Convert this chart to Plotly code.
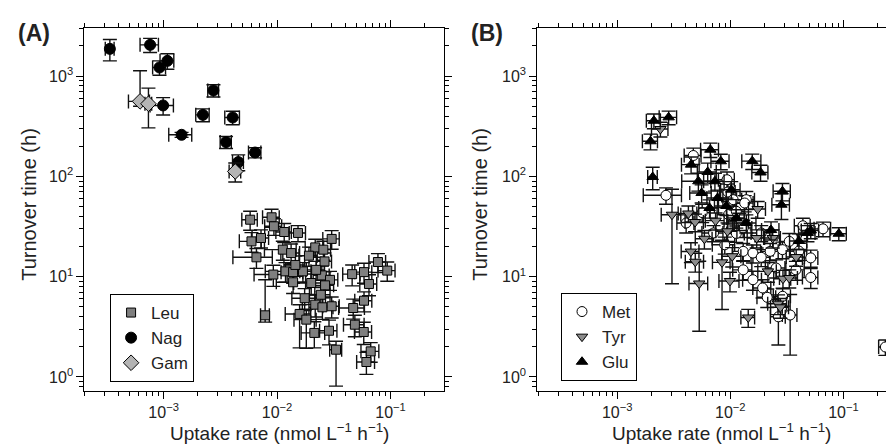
import plotly.graph_objects as go

# ---------------- Panel A data ----------------
leu_x = [5.79e-3, 8.95e-3, 7.22e-3, 5.95e-3, 6.58e-3, 9.38e-3, 1.156e-2, 1.53e-2, 1.124e-2, 1.33e-2,
         3.03e-2, 2.17e-2, 1.91e-2, 2.56e-2, 2.62e-2, 9.27e-3, 1.187e-2, 1.385e-2, 1.69e-2, 1.385e-2,
         2.48e-2, 2.93e-2, 2.43e-2, 1.75e-2, 2.17e-2, 2.51e-2, 3.03e-2, 1.58e-2, 1.81e-2, 2.13e-2,
         2.87e-2, 3.31e-2, 7.85e-3, 4.59e-2, 5.84e-2, 7.75e-2, 9.36e-2, 6.46e-2, 5.84e-2, 4.69e-2,
         4.85e-2, 5.81e-2, 6.69e-2, 6.13e-2, 2.65e-2, 2.0e-2, 1.45e-2, 2.21e-2]
leu_y = [37.0, 39.1, 24.3, 22.5, 15.6, 31.8, 27.9, 27.3, 18.6, 17.2,
         23.8, 19.6, 16.2, 18.6, 14.2, 10.5, 11.3, 11.1, 11.3, 8.8,
         10.3, 9.3, 6.6, 6.1, 5.26, 4.95, 5.07, 4.25, 3.73, 2.75,
         2.89, 1.87, 4.12, 10.6, 11.1, 14.0, 11.5, 8.46, 5.76, 4.87,
         3.32, 2.81, 1.80, 1.41, 8.2, 8.65, 13.1, 11.7]
leu_xerr = [9e-4, 1.5e-3, 1.2e-3, 1.3e-3, 2.5e-3, 1.6e-3, 1.8e-3, 2.5e-3, 3.5e-3, 2.5e-3,
            5e-3, 4e-3, 3.5e-3, 4e-3, 4e-3, 3e-3, 4e-3, 3e-3, 3e-3, 4e-3,
            4e-3, 5e-3, 5e-3, 4e-3, 5e-3, 6e-3, 5e-3, 4e-3, 4e-3, 5e-3,
            5e-3, 4e-3, 7e-4, 8e-3, 1e-2, 1.3e-2, 1.6e-2, 1.1e-2, 1e-2, 1.2e-2,
            1e-2, 1e-2, 1.2e-2, 1.1e-2, 5e-3, 6e-3, 3e-3, 4e-3]
leu_yerr_up = [8, 8, 5, 5, 3.5, 6, 6, 5, 4, 4,
               5, 4, 3.5, 4, 3, 2.5, 2.5, 2.5, 2.5, 2,
               2.5, 2, 1.5, 1.5, 1.3, 1.2, 1.2, 1.0, 1.0, 0.8,
               0.8, 0.4, 5.2, 2.5, 2.5, 3, 2.5, 2, 1.3, 1.1,
               0.8, 0.7, 0.4, 0.35, 2, 2, 3, 2.5]
leu_yerr_down = [8, 8, 5, 5, 3.5, 6, 6, 5, 4, 4,
                 5, 4, 3.5, 4, 3, 2.5, 2.5, 2.5, 2.5, 2,
                 2.5, 2, 1.5, 1.5, 1.3, 1.2, 1.2, 2.3, 1.8, 0.8,
                 0.8, 1.06, 0.6, 2.5, 2.5, 3, 2.5, 2, 1.3, 1.1,
                 0.8, 0.7, 0.4, 0.35, 2, 2, 3, 2.5]

nag_x = [3.36e-4, 7.6e-4, 9.2e-4, 1.08e-3, 9.9e-4, 1.44e-3, 2.22e-3, 2.75e-3, 4.06e-3, 3.55e-3, 4.55e-3, 6.4e-3]
nag_y = [1870, 2050, 1220, 1420, 510, 260, 411, 720, 387, 220, 139, 173]
nag_xerr = [3e-5, 1.4e-4, 1.2e-4, 1.5e-4, 2.3e-4, 3.3e-4, 3e-4, 3e-4, 6e-4, 4e-4, 5e-4, 8e-4]
nag_yerr_up = [450, 330, 200, 250, 100, 15, 60, 100, 60, 30, 25, 20]
nag_yerr_down = [450, 330, 200, 250, 100, 15, 60, 100, 60, 30, 25, 20]

gam_x = [6.2e-4, 7.35e-4, 4.28e-3]
gam_y = [560, 530, 112]
gam_xerr = [1.3e-4, 5e-5, 5e-4]
gam_yerr_up = [570, 230, 24]
gam_yerr_down = [60, 225, 24]

# ---------------- Panel B data ----------------
met_x = [4.71e-3, 2.70e-3, 9.35e-3, 9.53e-3, 1.06e-2, 1.385e-2, 4.07e-3, 5.64e-3, 9.64e-3, 1.13e-2,
         1.34e-2, 4.38e-2, 6.6e-2, 1.13e-2, 1.30e-2, 1.30e-2, 1.585e-2, 1.875e-2, 2.25e-2, 2.89e-2,
         3.32e-2, 4.04e-2, 5.14e-2, 5.14e-2, 1.585e-2, 1.93e-2, 2.12e-2, 2.90e-2, 2.66e-2, 3.38e-2,
         0.2348, 8.93e-3, 7.11e-3, 1.875e-2, 2.54e-2, 3.80e-2, 1.30e-2]
met_y = [161.6, 64.8, 92.7, 69.9, 58.6, 58.6, 34.3, 43.6, 41.5, 44.9,
         54.3, 32.2, 30.0, 27.0, 30.6, 17.9, 17.2, 15.6, 17.9, 18.6,
         22.5, 18.0, 15.4, 9.82, 9.33, 7.72, 6.23, 6.38, 3.98, 4.15,
         1.99, 20.8, 27.3, 27.3, 12.2, 11.7, 11.7]
met_xerr = [8e-4, 1.0e-3, 1.5e-3, 1.5e-3, 2e-3, 2.5e-3, 7e-4, 1e-3, 2e-3, 2e-3,
            2.5e-3, 7e-3, 1.1e-2, 2e-3, 2.5e-3, 2.5e-3, 3e-3, 3.5e-3, 4e-3, 5e-3,
            6e-3, 7e-3, 8e-3, 8e-3, 3e-3, 3.5e-3, 4e-3, 5e-3, 4e-3, 5e-3,
            0.03, 2e-3, 1.5e-3, 3.5e-3, 5e-3, 7e-3, 2.5e-3]
met_yerr = [30, 12, 18, 14, 12, 12, 7, 9, 8, 9,
            10, 6, 5, 5, 6, 3.5, 3.5, 3, 3.5, 3.5,
            4.5, 3.5, 3, 2.2, 2, 1.6, 1.3, 1.3, 1.9, 2.5,
            0.35, 4, 5, 5, 2.5, 2.5, 2.5]

tyr_x = [2.41e-3, 3.05e-3, 4.26e-3, 4.88e-3, 5.90e-3, 4.48e-3, 4.90e-3, 5.31e-3, 7.41e-3, 8.45e-3,
         9.93e-3, 1.04e-2, 9.44e-3, 1.71e-2, 1.745e-2, 1.44e-2, 2.92e-2, 3.82e-2, 2.64e-2, 2.37e-2,
         3.32e-2, 2.15e-2, 2.77e-2, 1.20e-2]
tyr_y = [297, 41.5, 42.7, 35.1, 23.9, 17.8, 14.1, 8.56, 36.2, 13.9,
         9.06, 16.0, 28.4, 24.3, 47.3, 3.92, 9.55, 15.7, 5.38, 24.3,
         9.7, 11.3, 4.95, 35.9]
tyr_xerr = [4e-4, 6e-4, 8e-4, 9e-4, 1e-3, 8e-4, 9e-4, 1e-3, 1.4e-3, 1.5e-3,
            2e-3, 2e-3, 2e-3, 3e-3, 3e-3, 2e-3, 5e-3, 7e-3, 5e-3, 4e-3,
            6e-3, 4e-3, 5e-3, 2.5e-3]
tyr_yerr = [50, 33, 8, 7, 5, 4, 3, 5.7, 7, 9.2,
            2, 3.5, 6, 5, 9, 0.8, 2, 3, 1.2, 5,
            2, 2.5, 1.1, 7]

glu_x = [2.11e-3, 2.85e-3, 1.97e-3, 2.06e-3, 4.50e-3, 6.66e-3, 8.24e-3, 6.31e-3, 1.563e-2, 1.85e-2,
         2.89e-2, 2.83e-2, 5.14e-2, 9.1e-2, 5.22e-3, 7.31e-3, 5.58e-3, 7.71e-3, 6.56e-3, 9.24e-3,
         1.13e-2, 4.81e-2, 1.02e-2, 1.385e-2, 2.29e-2, 4.04e-2]
glu_y = [359, 388, 224, 98.6, 131, 184.6, 141.5, 110.7, 142, 109.4,
         71.0, 52.2, 28.9, 26.8, 89.4, 89.4, 68.3, 60.9, 48.4, 50.7,
         38.5, 27.3, 73.7, 34.3, 29.2, 22.7]
glu_xerr = [3e-4, 5e-4, 3e-4, 2e-4, 8e-4, 1.2e-3, 1.5e-3, 1.2e-3, 3e-3, 3e-3,
            5e-3, 5e-3, 9e-3, 1.5e-2, 1.5e-3, 1.5e-3, 1.2e-3, 1.5e-3, 1.3e-3, 2e-3,
            2e-3, 8e-3, 2e-3, 3e-3, 4e-3, 7e-3]
glu_yerr = [60, 60, 40, 25, 25, 30, 25, 25, 25, 20,
            14, 15, 5, 4, 18, 18, 14, 12, 10, 10,
            8, 5, 15, 7, 6, 4]

# ---------------- ticks ----------------
x_tick_vals = [1e-3, 1e-2, 1e-1]
x_tick_text = ["10<sup>\u22123</sup>", "10<sup>\u22122</sup>", "10<sup>\u22121</sup>"]
y_tick_vals = [1, 10, 100, 1000]
y_tick_text = ["10<sup>0</sup>", "10<sup>1</sup>", "10<sup>2</sup>", "10<sup>3</sup>"]
minor_tick_vals = [m * 10.0 ** e for e in range(-5, 5) for m in range(2, 10)]

FONT = "Liberation Sans, Arial, sans-serif"
EB = dict(color="#111111", thickness=1.4, width=7)

fig = go.Figure()


def add(xs, ys, ex, eup, edown, name, symbol, fill, size, xa, ya, leg):
    fig.add_trace(go.Scatter(
        x=xs, y=ys, mode="markers", name=name, xaxis=xa, yaxis=ya, legend=leg,
        marker=dict(symbol=symbol, color=fill, size=size, line=dict(color="black", width=1)),
        error_x=dict(type="data", array=ex, **EB),
        error_y=dict(type="data", array=eup, arrayminus=edown, **EB),
    ))


add(leu_x, leu_y, leu_xerr, leu_yerr_up, leu_yerr_down, "Leu", "square", "#7f7f7f", 9, "x", "y", "legend")
add(nag_x, nag_y, nag_xerr, nag_yerr_up, nag_yerr_down, "Nag", "circle", "black", 11, "x", "y", "legend")
add(gam_x, gam_y, gam_xerr, gam_yerr_up, gam_yerr_down, "Gam", "diamond", "#b4b4b4", 12, "x", "y", "legend")

add(met_x, met_y, met_xerr, met_yerr, met_yerr, "Met", "circle", "white", 10, "x2", "y2", "legend2")
add(tyr_x, tyr_y, tyr_xerr, tyr_yerr, tyr_yerr, "Tyr", "triangle-down", "#8c8c8c", 10, "x2", "y2", "legend2")
add(glu_x, glu_y, glu_xerr, glu_yerr, glu_yerr, "Glu", "triangle-up", "black", 10, "x2", "y2", "legend2")

W, H = 894, 448
ML, MR, MT, MB = 0, 0, 20, 65
PH = H - MT - MB

axis_common = dict(
    type="log", showline=True, linecolor="black", linewidth=1, mirror="ticks",
    ticks="outside", ticklen=7, tickwidth=1, tickcolor="black",
    showgrid=False, zeroline=False, tickmode="array",
    tickfont=dict(family=FONT, size=16, color="#222"),
    minor=dict(ticks="outside", ticklen=4, tickwidth=1, tickcolor="black", showgrid=False,
               tickmode="array", tickvals=minor_tick_vals),
)

fig.update_layout(
    width=W, height=H, margin=dict(l=ML, r=MR, t=MT, b=MB),
    paper_bgcolor="white", plot_bgcolor="white",
    font=dict(family=FONT, color="#222"),
    xaxis=dict(domain=[77 / W, 440 / W], range=[-3.699, -0.528], anchor="y",
               tickvals=x_tick_vals, ticktext=x_tick_text, **axis_common),
    yaxis=dict(domain=[0, 1], range=[-0.14, 3.48], anchor="x",
               tickvals=y_tick_vals, ticktext=y_tick_text, **axis_common),
    xaxis2=dict(domain=[534 / W, 1.0], range=[-3.707, -0.553], anchor="y2",
                tickvals=x_tick_vals, ticktext=x_tick_text, **axis_common),
    yaxis2=dict(domain=[0, 1], range=[-0.14, 3.48], anchor="x2",
                tickvals=y_tick_vals, ticktext=y_tick_text, **axis_common),
    legend=dict(x=103 / W, y=1 - (286 - MT) / PH, xanchor="left", yanchor="top",
                bordercolor="black", borderwidth=1, bgcolor="white",
                font=dict(family=FONT, size=17, color="#222")),
    legend2=dict(x=558 / W, y=1 - (285 - MT) / PH, xanchor="left", yanchor="top",
                 bordercolor="black", borderwidth=1, bgcolor="white",
                 font=dict(family=FONT, size=17, color="#222")),
    showlegend=True,
)


def py(p):
    return 1 - (p - MT) / PH


ann = [
    dict(text="<b>(A)</b>", x=8 / W, y=py(25), xanchor="left", yanchor="middle", font=dict(size=23)),
    dict(text="<b>(B)</b>", x=465 / W, y=py(25), xanchor="left", yanchor="middle", font=dict(size=23)),
    dict(text="Turnover time (h)", x=21 / W, y=py(196), textangle=-90, xanchor="center", yanchor="middle",
         font=dict(size=20)),
    dict(text="Turnover time (h)", x=476 / W, y=py(196), textangle=-90, xanchor="center", yanchor="middle",
         font=dict(size=20)),
    dict(text="Uptake rate (nmol L<sup>\u22121</sup> h<sup>\u22121</sup>)", x=274 / W, y=py(424),
         xanchor="center", yanchor="middle", font=dict(size=19)),
    dict(text="Uptake rate (nmol L<sup>\u22121</sup> h<sup>\u22121</sup>)", x=720 / W, y=py(424),
         xanchor="center", yanchor="middle", font=dict(size=19)),
]
for a in ann:
    a.update(xref="paper", yref="paper", showarrow=False)
    a["font"].update(family=FONT, color="#222")
fig.update_layout(annotations=ann)

fig.write_html("out.html")
